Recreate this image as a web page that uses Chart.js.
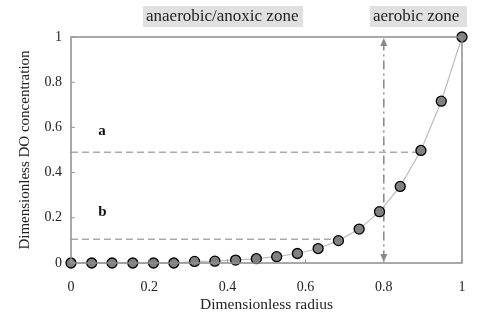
<!DOCTYPE html>
<html lang="en">
<head>
  <meta charset="UTF-8">
  <title>DO profile</title>
  <script src="https://cdn.jsdelivr.net/npm/chart.js"></script>
  <style>
    body { margin: 0; background: #fff; }
    .wrap { width: 500px; height: 325px; position: relative; }
  </style>
</head>
<body>
<div class="wrap"><canvas id="chart" width="500" height="325"></canvas></div>
<script>
  // radius positions (20 evenly spaced nodes) and DO values
  const radius = [0, 0.053, 0.105, 0.158, 0.211, 0.263, 0.316, 0.368, 0.421, 0.474,
                  0.526, 0.579, 0.632, 0.684, 0.737, 0.789, 0.842, 0.895, 0.947, 1];
  const doConc = [0, 0, 0, 0, 0, 0, 0.007, 0.008, 0.013, 0.019,
                  0.028, 0.042, 0.064, 0.099, 0.150, 0.227, 0.339, 0.498, 0.716, 1];
  const lineA = { y: 0.49, xEnd: 0.895 };
  const lineB = { y: 0.105, xEnd: 0.684 };
  const zoneBoundary = 0.8;
  const xTicks = [0, 0.2, 0.4, 0.6, 0.8, 1];
  const yTicks = [0, 0.2, 0.4, 0.6, 0.8, 1];

  const serif = "'Liberation Serif', 'DejaVu Serif', serif";
  Chart.defaults.font.family = serif;
  Chart.defaults.color = '#222';

  // extra drawing: axis box, inward ticks, arrow, letters and zone labels
  const extras = {
    id: 'extras',
    afterDatasetsDraw(chart) {
      const { ctx, chartArea: a, scales: { x, y } } = chart;
      ctx.save();
      ctx.strokeStyle = '#8c8c8c';
      ctx.lineWidth = 1.5;
      ctx.strokeRect(a.left, a.top, a.right - a.left, a.bottom - a.top);

      ctx.lineWidth = 1;
      ctx.strokeStyle = '#999';
      xTicks.forEach(t => {
        const px = x.getPixelForValue(t);
        ctx.beginPath(); ctx.moveTo(px, a.bottom); ctx.lineTo(px, a.bottom - 4); ctx.stroke();
      });
      yTicks.forEach(t => {
        const py = y.getPixelForValue(t);
        ctx.beginPath(); ctx.moveTo(a.left, py); ctx.lineTo(a.left + 4, py); ctx.stroke();
      });

      // arrowheads on the zone boundary line
      const bx = x.getPixelForValue(zoneBoundary);
      ctx.fillStyle = '#888';
      ctx.beginPath();
      ctx.moveTo(bx, y.getPixelForValue(1) + 1);
      ctx.lineTo(bx - 3.5, y.getPixelForValue(1) + 9);
      ctx.lineTo(bx + 3.5, y.getPixelForValue(1) + 9);
      ctx.fill();
      ctx.beginPath();
      ctx.moveTo(bx, y.getPixelForValue(0) - 1);
      ctx.lineTo(bx - 3.5, y.getPixelForValue(0) - 9);
      ctx.lineTo(bx + 3.5, y.getPixelForValue(0) - 9);
      ctx.fill();

      // letters
      ctx.fillStyle = '#111';
      ctx.font = 'bold 15px ' + serif;
      ctx.textAlign = 'left';
      ctx.textBaseline = 'middle';
      ctx.fillText('a', x.getPixelForValue(0.07), y.getPixelForValue(0.585));
      ctx.fillText('b', x.getPixelForValue(0.07), y.getPixelForValue(0.225));

      // zone labels
      ctx.font = '17px ' + serif;
      const zone = (text, left, right) => {
        ctx.fillStyle = '#e0e0e0';
        ctx.fillRect(left, 6, right - left, 21);
        ctx.fillStyle = '#222';
        ctx.fillText(text, left + 3, 17);
      };
      zone('anaerobic/anoxic zone', 143, 303);
      zone('aerobic zone', 370, 467);
      ctx.restore();
    }
  };

  new Chart(document.getElementById('chart'), {
    type: 'scatter',
    data: {
      datasets: [
        {
          data: radius.map((r, i) => ({ x: r, y: doConc[i] })),
          showLine: true,
          borderColor: '#bdbdbd',
          borderWidth: 1.2,
          pointBackgroundColor: '#808080',
          pointBorderColor: '#000',
          pointBorderWidth: 1.3,
          pointRadius: 5,
          clip: false,
          order: 0
        },
        {
          data: [{ x: 0, y: lineA.y }, { x: lineA.xEnd, y: lineA.y }],
          showLine: true, borderColor: '#aaa', borderWidth: 1.3, borderDash: [7, 4],
          pointRadius: 0, order: 2
        },
        {
          data: [{ x: 0, y: lineB.y }, { x: lineB.xEnd, y: lineB.y }],
          showLine: true, borderColor: '#aaa', borderWidth: 1.3, borderDash: [7, 4],
          pointRadius: 0, order: 2
        },
        {
          data: [{ x: zoneBoundary, y: 0.015 }, { x: zoneBoundary, y: 0.985 }],
          showLine: true, borderColor: '#888', borderWidth: 1.5, borderDash: [9, 4, 2, 4],
          pointRadius: 0, order: 2
        }
      ]
    },
    options: {
      responsive: false,
      animation: false,
      layout: { padding: { left: 12, top: 37, right: 38, bottom: 7 } },
      plugins: { legend: { display: false }, tooltip: { enabled: false } },
      scales: {
        x: {
          type: 'linear', min: 0, max: 1,
          grid: { display: false, drawTicks: false },
          border: { display: false },
          afterBuildTicks: s => { s.ticks = xTicks.map(v => ({ value: v })); },
          afterFit: s => { s.height = 55; },
          ticks: { font: { size: 14 }, padding: 16, color: '#222', callback: v => String(v) },
          title: { display: true, text: 'Dimensionless radius', font: { size: 15.5 }, padding: { top: 0 }, color: '#222' }
        },
        y: {
          type: 'linear', min: 0, max: 1,
          grid: { display: false, drawTicks: false },
          border: { display: false },
          afterBuildTicks: s => { s.ticks = yTicks.map(v => ({ value: v })); },
          afterFit: s => { s.width = 59; },
          ticks: { font: { size: 14 }, padding: 9, color: '#222', callback: v => String(v) },
          title: { display: true, text: 'Dimensionless DO concentration', font: { size: 15 }, padding: { bottom: 2 }, color: '#222' }
        }
      }
    },
    plugins: [extras]
  });
</script>
</body>
</html>
